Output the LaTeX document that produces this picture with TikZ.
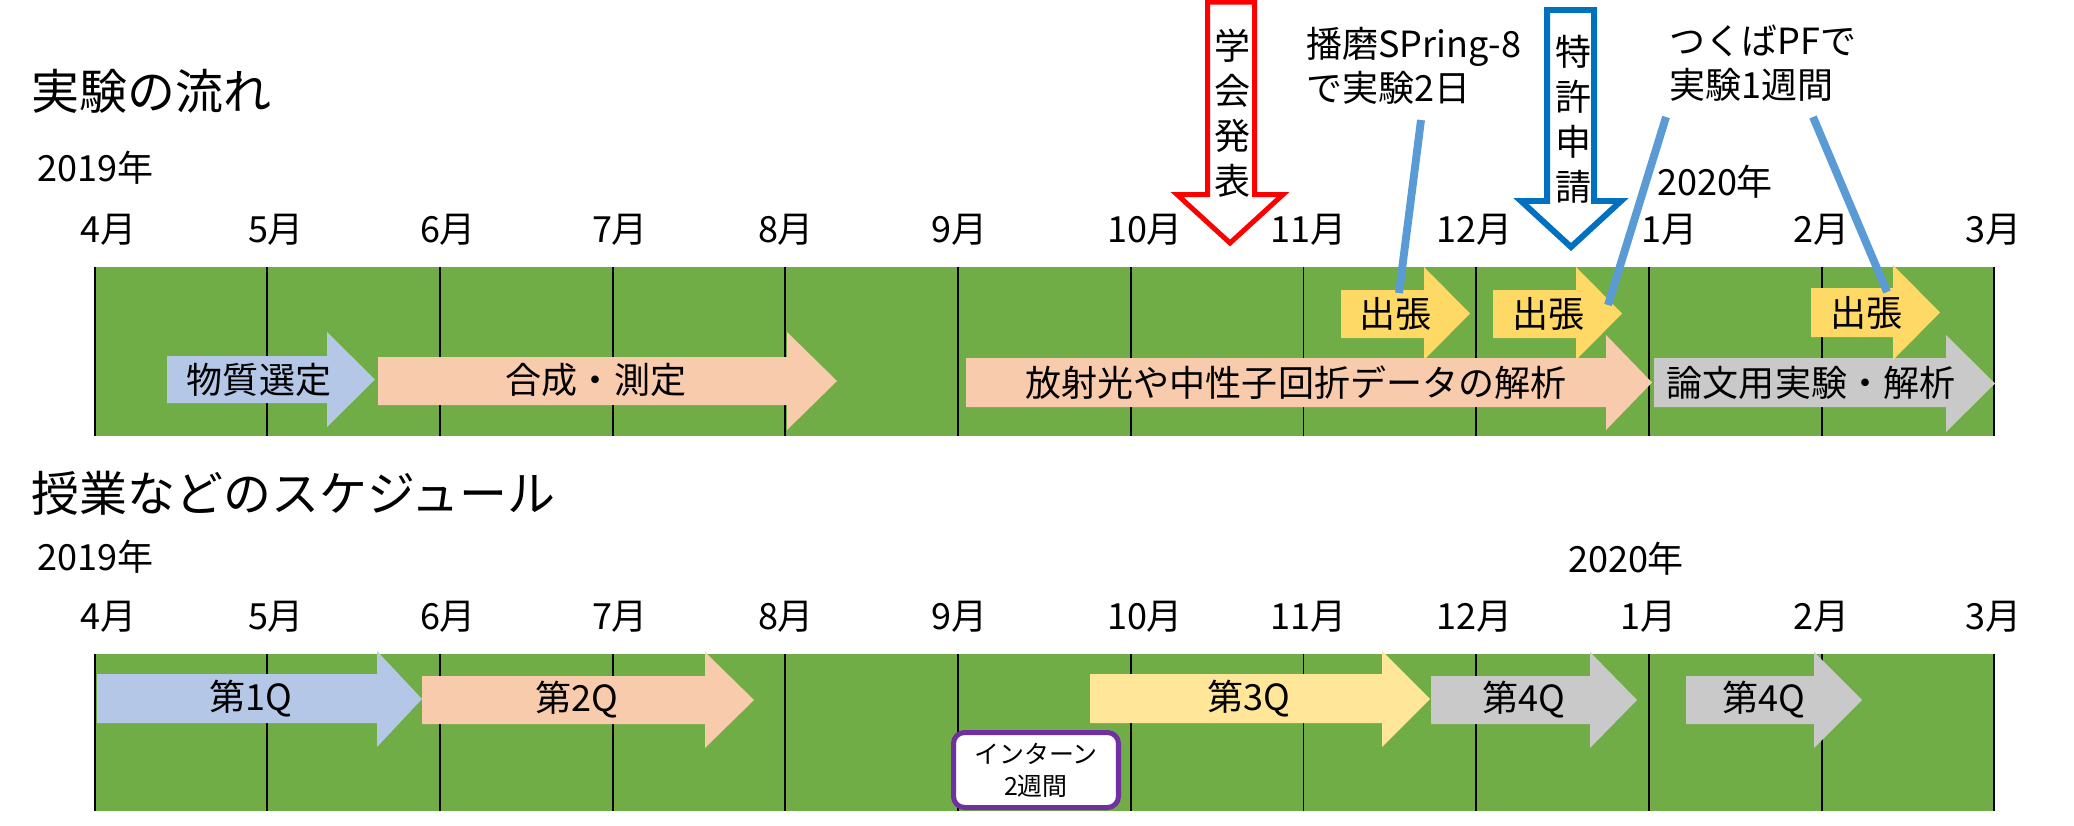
\documentclass[tikz,border=0pt]{standalone}
\usepackage{fontspec}
\setmainfont{Noto Sans CJK JP}
\definecolor{bandgreen}{HTML}{70AD47}
\definecolor{qblue}{HTML}{B4C7E7}
\definecolor{qpeach}{HTML}{F8CBAD}
\definecolor{qgold}{HTML}{FFD966}
\definecolor{qyellow}{HTML}{FFE699}
\definecolor{qgrey}{HTML}{C9C9C9}
\definecolor{calloutblue}{HTML}{5B9BD5}
\definecolor{patentblue}{HTML}{0070C0}
\definecolor{internpurple}{HTML}{7030A0}
% body x0, body x1, tip x, body top, body bottom, head top, head bottom
\newcommand{\barrow}[8]{\fill[#1] (#2,#5) -- (#3,#5) -- (#3,#7) -- (#4,{(#7+#8)/2}) -- (#3,#8) -- (#3,#6) -- (#2,#6) -- cycle;}

\begin{document}
\begin{tikzpicture}[x=0.02cm,y=-0.02cm,
    mon/.style={font=\fontsize{20.5}{24}\selectfont, inner sep=0pt},
    lbl/.style={font=\fontsize{20.5}{24}\selectfont, inner sep=0pt},
    ttl/.style={font=\fontsize{27.3}{32}\selectfont, anchor=west, inner sep=0pt},
    note/.style={font=\fontsize{20.5}{25}\selectfont, align=left, anchor=west, inner sep=0pt},
    vtext/.style={font=\fontsize{20.5}{25.6}\selectfont, align=center, inner sep=0pt},
    gridline/.style={line width=1.1pt},
    callout/.style={draw=calloutblue, line width=4.5pt},
    intern/.style={draw=internpurple, line width=2.85pt, fill=white, rounded corners=0.22cm,
      minimum width=3.3cm, minimum height=1.5cm, align=center,
      font=\fontsize{14.2}{18.2}\selectfont}]
  \useasboundingbox (0,0) rectangle (2074,825);

  % titles
  \node[ttl] (flow) at (31,91) {実験の流れ};
  \node[ttl] (sched) at (31,493) {授業などのスケジュール};
  \node[mon, anchor=west] (yeara) at (37,168) {2019年};
  \node[mon] (yearb) at (1715,182) {2020年};
  \node[mon, anchor=west] (yearc) at (37,557) {2019年};
  \node[mon] (yeard) at (1626,559) {2020年};

  % months
  \foreach \x/\m [count=\i] in {109/4,276/5,448/6,620/7,786/8,959/9,1145/10,1308/11,1474/12,1669/1,1821/2,1993/3}
    \node[mon] (ma\i) at (\x,230) {\m{}月};
  \foreach \x/\m [count=\i] in {109/4,276/5,448/6,620/7,786/8,959/9,1145/10,1308/11,1474/12,1648/1,1821/2,1993/3}
    \node[mon] (mb\i) at (\x,617) {\m{}月};

  % bands
  \fill[bandgreen] (94.6,267) rectangle (1994.3,436);
  \fill[bandgreen] (94.6,654) rectangle (1994.3,811);
  \foreach \k in {0,...,11} {
    \draw[gridline] ({94.6+172.7*\k},267) -- ({94.6+172.7*\k},436);
    \draw[gridline] ({94.6+172.7*\k},654) -- ({94.6+172.7*\k},811);
  }

  % experiment flow
  \barrow{qblue}{167}{327}{375}{356}{403}{332}{427}
  \barrow{qpeach}{378}{787}{837}{357}{405}{332}{430}
  \barrow{qpeach}{966}{1606}{1652}{358}{407}{335}{430}
  \barrow{qgrey}{1654}{1946}{1995}{358}{407}{335}{432}
  \barrow{qgold}{1341}{1424}{1470}{290}{338}{267}{360}
  \barrow{qgold}{1493}{1576}{1622}{290}{338}{267}{360}
  \barrow{qgold}{1811}{1893}{1940}{288}{337}{265}{360}
  \node[lbl] (select) at (259,380) {物質選定};
  \node[lbl] (synth) at (596,380) {合成・測定};
  \node[lbl] (analysis) at (1296,383) {放射光や中性子回折データの解析};
  \node[lbl] (paper) at (1811,383) {論文用実験・解析};
  \node[lbl] (tripa) at (1395,314) {出張};
  \node[lbl] (tripb) at (1548,314) {出張};
  \node[lbl] (tripc) at (1866,313) {出張};

  % talk and patent
  \draw[red, line width=2.85pt, fill=white, miter limit=20]
    (1207.5,2) -- (1254.5,2) -- (1254.5,194.5) -- (1283,194.5) -- (1230,243)
    -- (1177,194.5) -- (1207.5,194.5) -- cycle;
  \node[vtext] (talk) at (1232,113) {学\\会\\発\\表};
  \draw[patentblue, line width=3.4pt, fill=white, miter limit=20]
    (1547,10) -- (1594,10) -- (1594,201) -- (1621,201) -- (1571,247)
    -- (1521,201) -- (1547,201) -- cycle;
  \node[vtext] (patent) at (1573,119) {特\\許\\申\\請};

  % beamtime notes
  \node[note] (spring) at (1306,66) {播磨SPring-8\\で実験2日};
  \node[note] (pf) at (1669,63) {つくばPFで\\実験1週間};
  \coordinate (springa) at (1421,120);
  \coordinate (springb) at (1399,293);
  \coordinate (pfa) at (1666,117);
  \coordinate (pfb) at (1608,305);
  \coordinate (pfc) at (1813,117);
  \coordinate (pfd) at (1887,292);
  \draw[callout] (springa) -- (springb);
  \draw[callout] (pfa) -- (pfb);
  \draw[callout] (pfc) -- (pfd);

  % schedule
  \barrow{qblue}{97}{377}{422}{674}{723}{651}{747}
  \barrow{qpeach}{422}{705}{754}{676}{724}{652}{748}
  \barrow{qyellow}{1090}{1382}{1430}{674}{723}{651}{747}
  \barrow{qgrey}{1431}{1590}{1637}{676}{724}{652}{748}
  \barrow{qgrey}{1686}{1814}{1862}{676}{724}{652}{748}
  \node[lbl] (qa) at (251,699) {第1Q};
  \node[lbl] (qb) at (577,700) {第2Q};
  \node[lbl] (qc) at (1249,699) {第3Q};
  \node[lbl] (qd) at (1524,700) {第4Q};
  \node[lbl] (qe) at (1764,700) {第4Q};
  \node[intern] (intern) at (1036,770) {インターン\\2週間};
\end{tikzpicture}
\end{document}
